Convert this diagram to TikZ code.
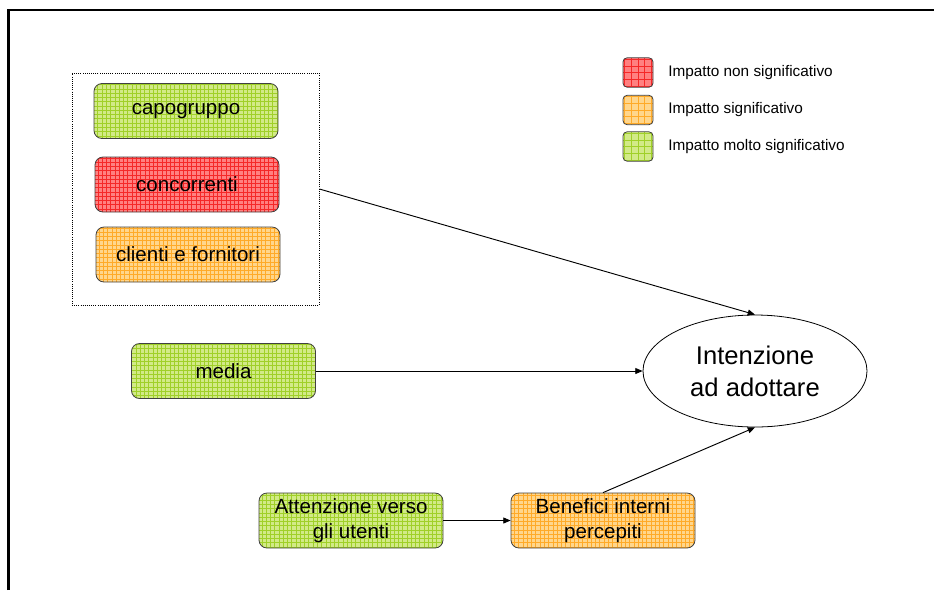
\documentclass[tikz,border=0pt]{standalone}
\usepackage{fontspec}
\setmainfont{Liberation Sans}
\usetikzlibrary{arrows.meta}
\usetikzlibrary{shapes.geometric}
\definecolor{grnfill}{RGB}{210,234,135}
\definecolor{grnline}{RGB}{160,208,40}
\definecolor{redfill}{RGB}{255,128,128}
\definecolor{redline}{RGB}{245,40,40}
\definecolor{orafill}{RGB}{255,214,140}
\definecolor{oraline}{RGB}{255,170,40}

\begin{document}
\begin{tikzpicture}[x=0.75pt, y=-0.75pt,
    chk/.style n args={3}{fill=#1, path picture={
        \draw[draw=#2, line width=0.3pt, step=#3]
        (path picture bounding box.south west) grid (path picture bounding box.north east);}},
    box/.style={draw=black!75, line width=0.6pt, rounded corners=6pt,
      minimum width=138pt, minimum height=41.25pt, inner sep=2pt,
      align=center, font=\fontsize{15.4}{18.75}\selectfont},
    key/.style={draw=black!75, line width=0.6pt, rounded corners=3pt,
      minimum width=22.5pt, minimum height=22pt, inner sep=0pt},
    keytxt/.style={anchor=west, inner sep=0pt, font=\fontsize{11.5}{13}\selectfont},
    arr/.style={line width=0.7pt, -{Triangle[length=5.5pt, width=4.5pt]}}]
    \useasboundingbox (0,0) rectangle (934,590);
    \draw[line width=1.6pt] (8.5,590) -- (8.5,10) -- (940,10);

    % group of the three partners
    \node[draw=black, densely dotted, line width=0.6pt,
      minimum width=185.25pt, minimum height=174pt] (grp) at (195.5,189) {};
    \node[box, chk={grnfill}{grnline}{3.2pt}] (capo) at (186,111) {capogruppo};
    \node[box, chk={redfill}{redline}{3.2pt}] (conc) at (187,184.5) {concorrenti};
    \node[box, chk={orafill}{oraline}{3.2pt}] (clie) at (188,254.5) {clienti e fornitori};

    \node[box, chk={grnfill}{grnline}{3.2pt}] (media) at (223.5,371) {media};
    \node[box, chk={grnfill}{grnline}{3.2pt}] (att) at (351,520.5) {Attenzione verso\\gli utenti};
    \node[box, chk={orafill}{oraline}{3.2pt}] (ben) at (603,520.5) {Benefici interni\\percepiti};

    \node[draw, ellipse, line width=0.6pt, minimum width=168pt, minimum height=84pt,
      align=center, font=\fontsize{19.2}{24}\selectfont] (int) at (755,371)
      {Intenzione\\ad adottare};

    % legend
    \node[key, chk={redfill}{redline}{5pt}] (kred) at (638,72.5) {};
    \node[key, chk={orafill}{oraline}{5pt}] (kora) at (638,110) {};
    \node[key, chk={grnfill}{grnline}{5pt}] (kgrn) at (638,146.5) {};
    \node[keytxt] (tred) at (668,72.5) {Impatto non significativo};
    \node[keytxt] (tora) at (668,110) {Impatto significativo};
    \node[keytxt] (tgrn) at (668,146.5) {Impatto molto significativo};

    \draw[arr] (grp.east) -- (int.north);
    \draw[arr] (media.east) -- (int.west);
    \draw[arr] (ben.north) -- (int.south);
    \draw[arr] (att.east) -- (ben.west);
  \end{tikzpicture}
\end{document}
